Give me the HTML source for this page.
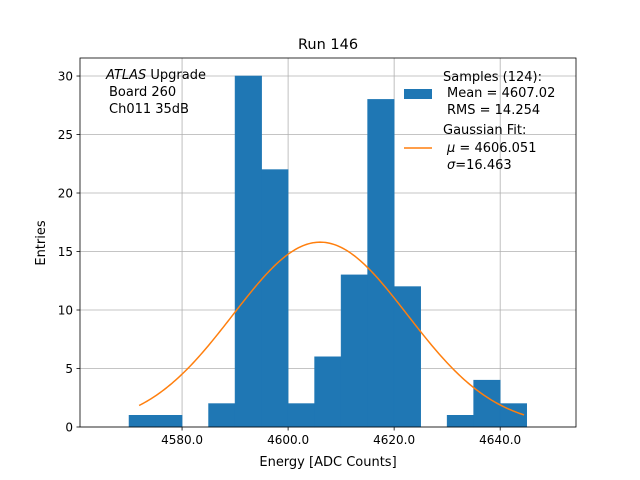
<!DOCTYPE html>
<html><head><meta charset="utf-8"><style>body{margin:0;background:#fff}svg{display:block;font-family:"DejaVu Sans","Liberation Sans",sans-serif}</style></head>
<body>
<svg id="c" width="640" height="480"></svg>
<script>
const binStarts=[4570,4575,4580,4585,4590,4595,4600,4605,4610,4615,4620,4625,4630,4635,4640];
const counts=[1,1,0,2,30,22,2,6,13,28,12,0,1,4,2];
const binWidth=5;
const xTicks=[4580,4600,4620,4640];
const xTickLabels=["4580.0","4600.0","4620.0","4640.0"];
const yTicks=[0,5,10,15,20,25,30];
const fitMu=4606.051, fitSigma=16.463, fitAmp=15.8, fitMin=4571.9, fitMax=4644.5;
const L=80,R=576,T=58,B=427,xmin=4560.75,xmax=4654.3,ymin=0,ymax=31.54;
const xs=v=>L+(v-xmin)/(xmax-xmin)*(R-L);
const ys=v=>B-(v-ymin)/(ymax-ymin)*(B-T);
const svg=document.getElementById('c');
const NS='http://www.w3.org/2000/svg';
function mk(tag,attrs,parent){const e=document.createElementNS(NS,tag);for(const k in attrs)e.setAttribute(k,attrs[k]);(parent||svg).appendChild(e);return e;}
xTicks.forEach((t,i)=>{
 const g=mk('line',{x1:xs(t),x2:xs(t),y1:T,y2:B,stroke:'#b0b0b0','stroke-width':0.8});
 
 
 mk('line',{x1:xs(t),x2:xs(t),y1:B,y2:B+3.5,stroke:'#000','stroke-width':0.8});
 const tx=mk('text',{x:xs(t),y:B+17,'text-anchor':'middle','font-size':12});tx.textContent=xTickLabels[i];
 
 
});
yTicks.forEach(t=>{
 const g=mk('line',{x1:L,x2:R,y1:ys(t),y2:ys(t),stroke:'#b0b0b0','stroke-width':0.8});
 
 
 mk('line',{x1:L-3.5,x2:L,y1:ys(t),y2:ys(t),stroke:'#000','stroke-width':0.8});
 const tx=mk('text',{x:L-7,y:ys(t)+4.5,'text-anchor':'end','font-size':12});tx.textContent=t;
 
 
});
binStarts.forEach((b,i)=>{
 if(!counts[i])return;
 const r=mk('rect',{x:xs(b),y:ys(counts[i]),width:xs(b+binWidth)-xs(b),height:ys(0)-ys(counts[i]),fill:'#1f77b4',stroke:'#1f77b4','stroke-width':0.6});
 
 
});
let d='';for(let i=0;i<=200;i++){const v=fitMin+(fitMax-fitMin)*i/200;const y=fitAmp*Math.exp(-((v-fitMu)**2)/(2*fitSigma**2));d+=(i?'L':'M')+xs(v).toFixed(2)+','+ys(y).toFixed(2);}
const p=mk('path',{d:d,fill:'none',stroke:'#ff7f0e','stroke-width':1.5});


const fr=mk('rect',{x:L,y:T,width:R-L,height:B-T,fill:'none',stroke:'#000','stroke-width':0.8});


</script>
<svg style="position:absolute;left:0;top:0" width="640" height="480">
<text x="328" y="49" text-anchor="middle" font-size="14.5">Run 146</text>
<text x="328" y="466" text-anchor="middle" font-size="13">Energy [ADC Counts]</text>
<text transform="translate(45,243) rotate(-90)" text-anchor="middle" font-size="13">Entries</text>
<g font-size="13">
<text x="106" y="79"><tspan font-style="italic">ATLAS</tspan> Upgrade</text>
<text x="109" y="96">Board 260</text>
<text x="109" y="113">Ch011 35dB</text>
</g>
<g font-size="13">
<rect x="404" y="89" width="28" height="10" fill="#1f77b4"/>
<text x="443" y="81">Samples (124):</text>
<text x="447" y="97">Mean = 4607.02</text>
<text x="447" y="114">RMS = 14.254</text>
<line x1="404" x2="432" y1="148" y2="148" stroke="#ff7f0e" stroke-width="1.5"/>
<text x="443" y="134">Gaussian Fit:</text>
<text x="447" y="152"><tspan font-style="italic">μ</tspan> = 4606.051</text>
<text x="447" y="169"><tspan font-style="italic">σ</tspan>=16.463</text>
</g>
</svg>
</body></html>
